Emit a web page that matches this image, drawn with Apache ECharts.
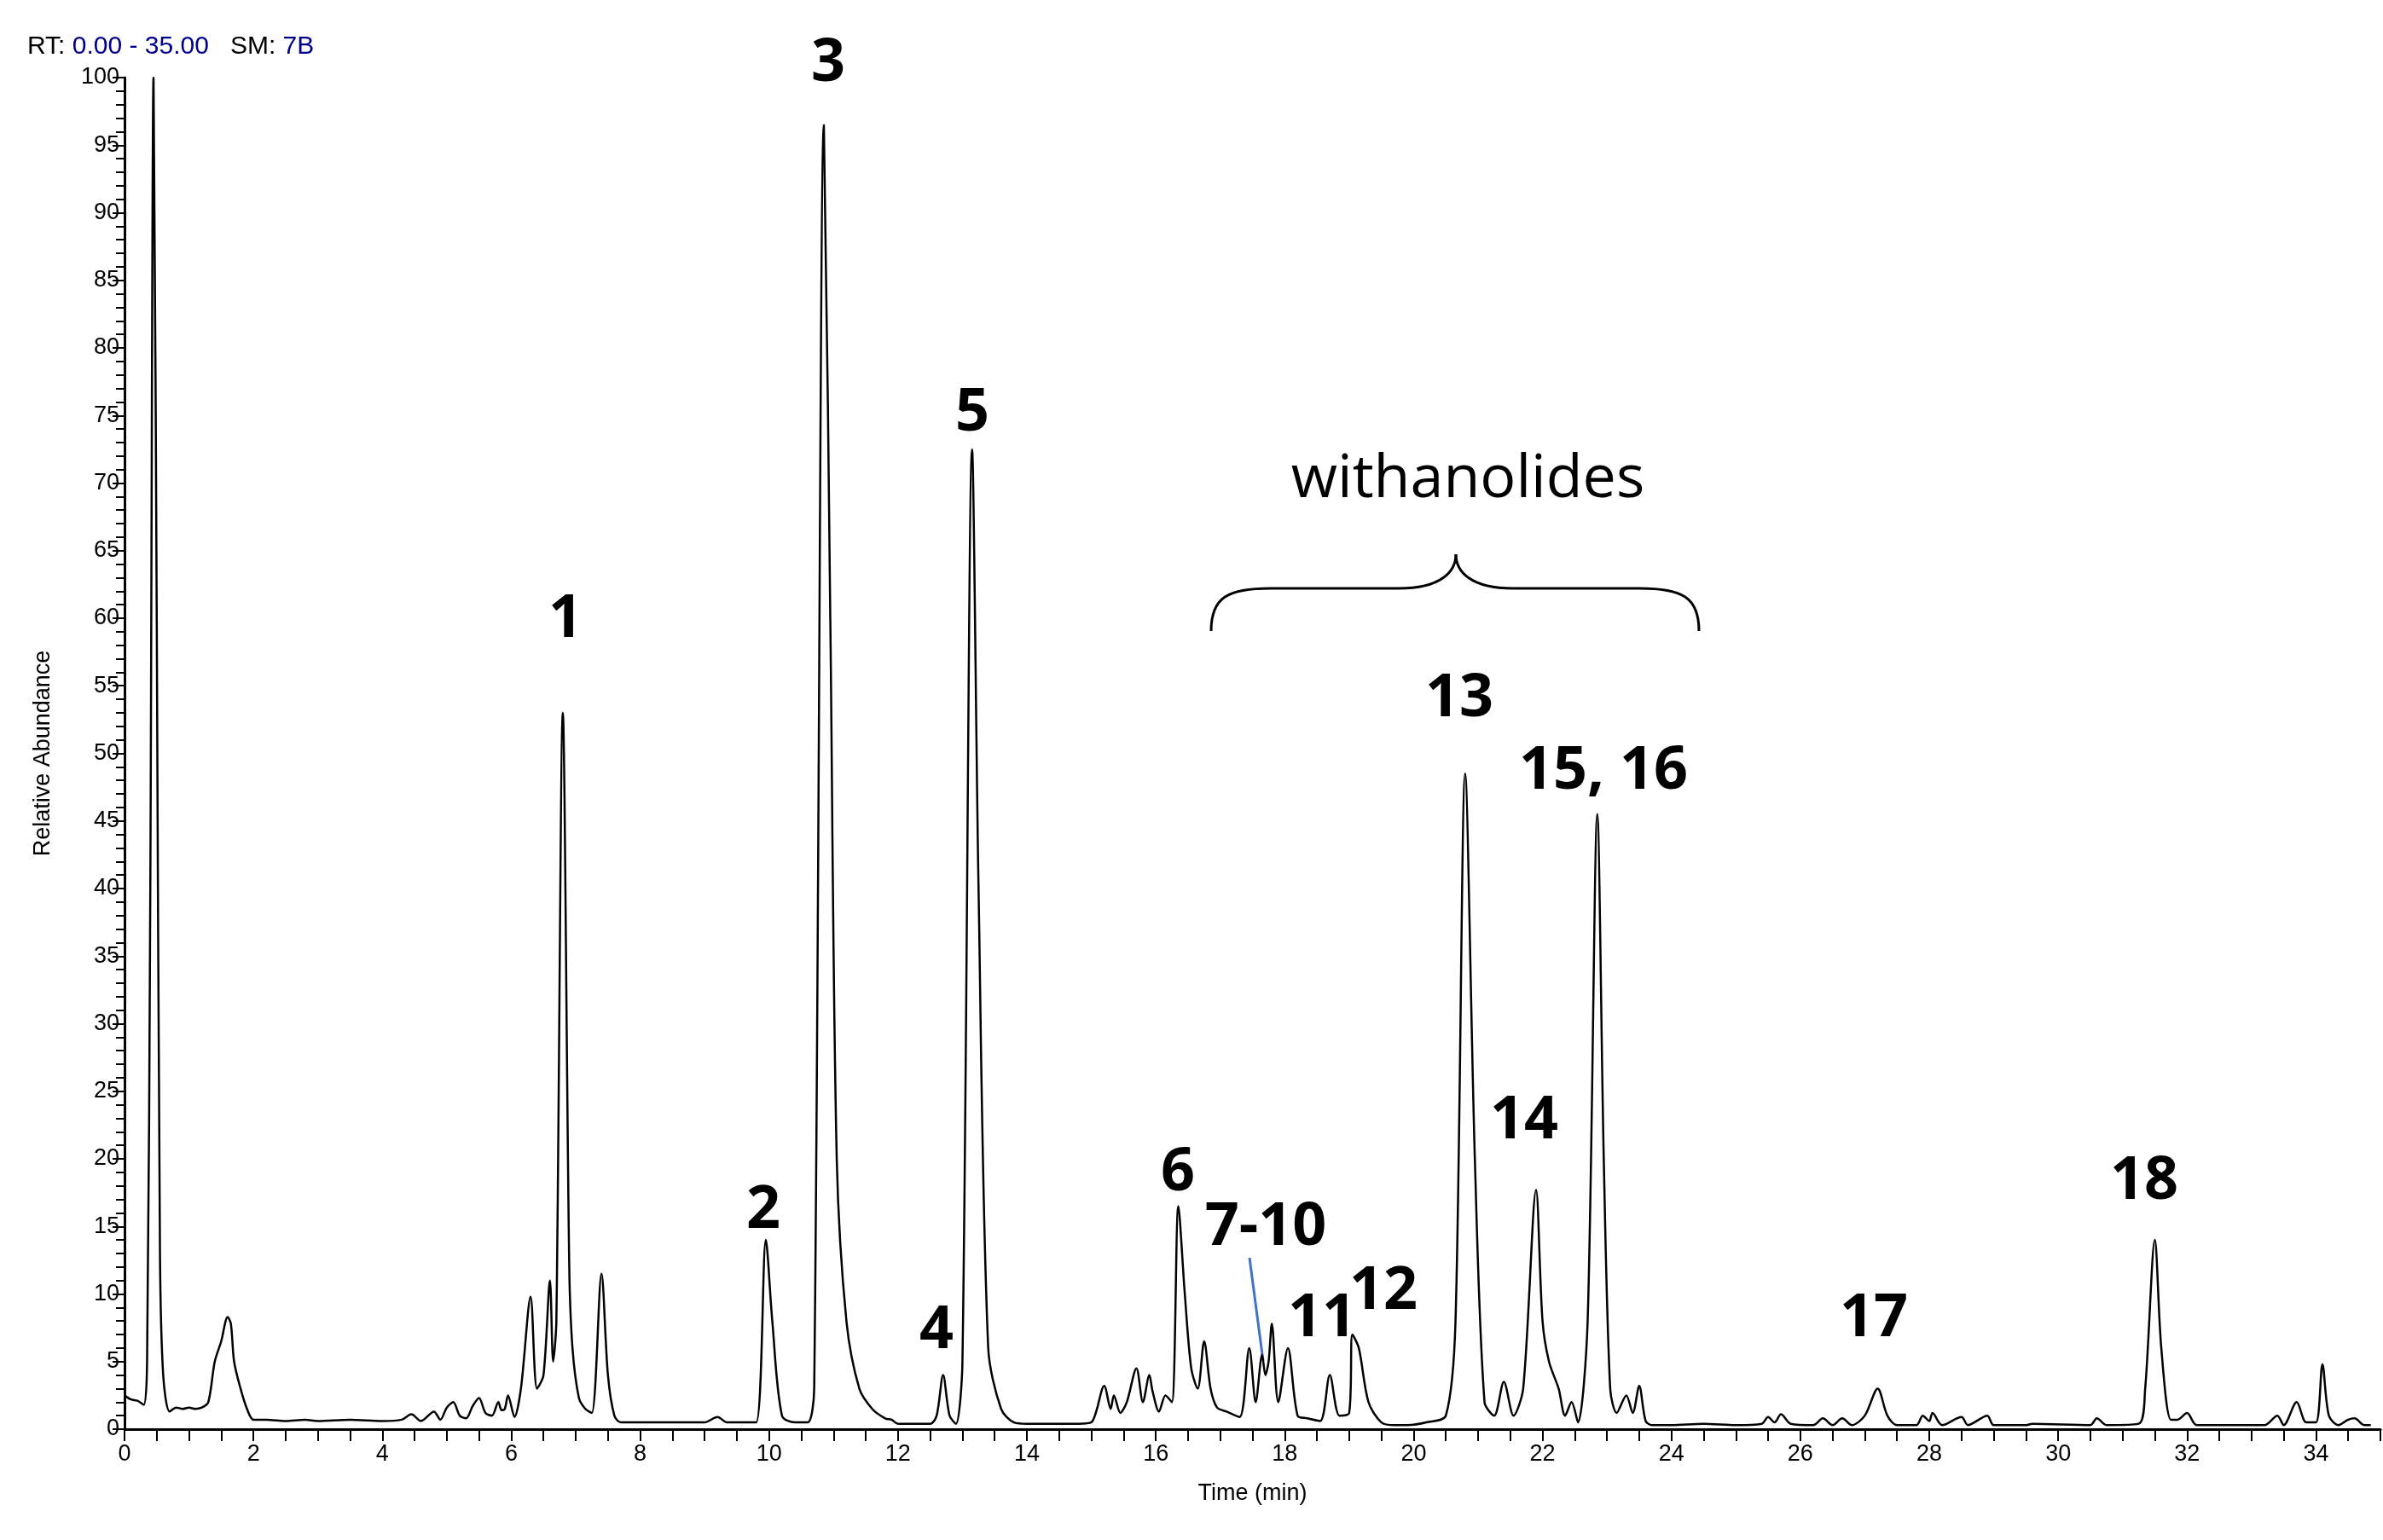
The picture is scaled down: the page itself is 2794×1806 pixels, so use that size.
<!DOCTYPE html>
<html><head><meta charset="utf-8">
<script src="https://cdn.jsdelivr.net/npm/echarts@6/dist/echarts.min.js"></script>
<style>html,body{margin:0;padding:0;background:#fff}#c{width:2794px;height:1806px}</style>
</head><body><div id="c"></div>
<script>
const times = [0,0.1,0.2,0.3,0.35,0.4,0.45,0.5,0.55,0.6,0.7,0.8,0.9,1.0,1.1,1.2,1.3,1.4,1.5,1.6,1.65,1.7,1.8,1.9,2.0,2.2,2.5,2.8,3.0,3.5,4.0,4.3,4.45,4.6,4.8,4.9,5.0,5.1,5.2,5.3,5.4,5.5,5.6,5.7,5.8,5.85,5.9,5.95,6.05,6.15,6.3,6.4,6.5,6.6,6.65,6.7,6.8,6.9,6.95,7.05,7.15,7.25,7.4,7.5,7.6,7.7,8.0,9.0,9.2,9.35,9.6,9.8,9.95,10.05,10.2,10.4,10.6,10.7,10.85,10.95,11.05,11.2,11.4,11.6,11.8,11.9,12.0,12.3,12.5,12.6,12.7,12.8,12.9,13.0,13.15,13.25,13.4,13.6,13.8,14.0,14.5,14.8,15.0,15.2,15.3,15.35,15.45,15.55,15.7,15.8,15.9,15.95,16.05,16.15,16.25,16.35,16.45,16.55,16.65,16.75,16.85,16.95,17.1,17.3,17.45,17.55,17.65,17.7,17.75,17.8,17.9,18.05,18.2,18.35,18.55,18.7,18.85,19.0,19.05,19.15,19.3,19.5,19.7,19.9,20.2,20.5,20.65,20.8,20.95,21.1,21.25,21.4,21.55,21.7,21.9,22.0,22.1,22.25,22.35,22.45,22.55,22.7,22.85,22.95,23.05,23.15,23.3,23.4,23.5,23.6,23.7,
  24.0,24.5,25.0,25.4,25.5,25.6,25.7,25.85,26.2,26.35,26.5,26.65,26.8,27.0,27.2,27.35,27.5,27.8,27.9,28.0,28.05,28.2,28.5,28.6,28.9,29.0,29.5,29.6,30.5,30.6,30.75,31.25,31.35,31.5,31.6,31.75,31.85,32.0,32.15,33.2,33.4,33.5,33.7,33.85,34.0,34.1,34.2,34.35,34.5,34.6,34.75,34.85];
const abundance = [2.5,2.2,2.1,1.8,5,40,100,60,13,4,1.3,1.6,1.5,1.6,1.5,1.6,2,5,6.5,8.3,7.8,5,3,1.5,0.7,0.7,0.6,0.7,0.6,0.7,0.6,0.7,1.1,0.6,1.3,0.7,1.6,2,1,0.8,1.7,2.3,1.2,1.0,2.0,1.4,1.5,2.5,0.9,3,9.8,3,4,11,5,8,53,12,6,2.3,1.5,1.2,11.5,4,1,0.5,0.5,0.5,0.9,0.5,0.5,0.5,14,8,1,0.5,0.5,3,96.5,60,20,8,3,1.5,0.8,0.7,0.4,0.4,0.4,1,4,1,0.4,5,72.5,40,6,1.5,0.5,0.4,0.4,0.4,0.5,3.2,1.5,2.5,1.2,2,4.5,2,4,2.8,1.3,2.5,2.0,16.5,10,4.5,3,6.5,3,1.6,1.3,0.9,6,2,5.5,4,5,7.8,2,6,1,0.8,0.6,4,1,1.2,7,6,2,0.5,0.3,0.3,0.5,1,8,48.5,20,2,1,3.5,1,3,17.7,8,5,3,1,2,0.5,8,45.5,20,3,1.2,2.5,1.2,3.2,0.6,0.3,
  0.3,0.4,0.3,0.4,0.9,0.5,1.1,0.4,0.3,0.8,0.3,0.8,0.3,1,3,1,0.3,0.3,1,0.6,1.2,0.3,0.9,0.3,1,0.3,0.3,0.4,0.3,0.8,0.3,0.4,3,14,6,0.7,0.7,1.2,0.3,0.3,1,0.3,2,0.5,0.5,4.8,1,0.3,0.7,0.8,0.3,0.3];
const yTicks = [0,5,10,15,20,25,30,35,40,45,50,55,60,65,70,75,80,85,90,95,100];
const xTicks = [0,2,4,6,8,10,12,14,16,18,20,22,24,26,28,30,32,34];
const peakLabels = [
  ['1',663,727],['3',971,75],['5',1140,485],['2',895,1420],['4',1098,1561],['6',1381,1376],
  ['7-10',1484,1440],['11',1550,1547],['12',1622,1515],['13',1711,820],['15, 16',1880,905],
  ['14',1787,1315],['17',2197,1547],['18',2514,1386]
];
const data = times.map((t,i)=>[t,abundance[i]]);
const chart = echarts.init(document.getElementById('c'));
const ax = {lineStyle:{color:'#000',width:3}};
const graphics = peakLabels.map(p=>({type:'text',x:p[1],y:p[2],style:{text:p[0],fill:'#000',font:'bold 70px "Open Sans", sans-serif',align:'center',verticalAlign:'middle'}}));
graphics.push({type:'text',x:1721,y:563,style:{text:'withanolides',fill:'#000',font:'70px "Open Sans", sans-serif',align:'center',verticalAlign:'middle'}});
const bs = {stroke:'#000',lineWidth:3,fill:'none'};
graphics.push({type:'bezierCurve',shape:{x1:1420,y1:740,cpx1:1420,cpy1:700,cpx2:1440,cpy2:690,x2:1490,y2:690},style:bs});
graphics.push({type:'line',shape:{x1:1490,y1:690,x2:1640,y2:690},style:bs});
graphics.push({type:'bezierCurve',shape:{x1:1640,y1:690,cpx1:1690,cpy1:690,cpx2:1707,cpy2:670,x2:1707,y2:650},style:bs});
graphics.push({type:'bezierCurve',shape:{x1:1707,y1:650,cpx1:1707,cpy1:670,cpx2:1724,cpy2:690,x2:1774,y2:690},style:bs});
graphics.push({type:'line',shape:{x1:1774,y1:690,x2:1922,y2:690},style:bs});
graphics.push({type:'bezierCurve',shape:{x1:1922,y1:690,cpx1:1972,cpy1:690,cpx2:1992,cpy2:700,x2:1992,y2:740},style:bs});
graphics.push({type:'line',shape:{x1:1465,y1:1475,x2:1481,y2:1596},style:{stroke:'#4472c4',lineWidth:3}});
graphics.push({type:'text',x:32,y:55,style:{rich:{k:{fill:'#000',fontSize:30,fontFamily:'Liberation Sans'},b:{fill:'#00008b',fontSize:30,fontFamily:'Liberation Sans'}},text:'{k|RT: }{b|0.00 - 35.00}{k|   SM: }{b|7B}',verticalAlign:'middle'}});
chart.setOption({
  animation:false,
  grid:{left:146,right:2,top:91,bottom:130},
  xAxis:{type:'value',min:0,max:35,interval:2,name:'Time (min)',nameLocation:'middle',nameGap:62,
    nameTextStyle:{color:'#000',fontSize:27,fontFamily:'Liberation Sans'},
    axisLine:ax,axisTick:{length:14,lineStyle:{color:'#000',width:2}},
    minorTick:{show:true,splitNumber:4,length:14,lineStyle:{color:'#000',width:2}},
    axisLabel:{color:'#000',fontSize:27,fontFamily:'Liberation Sans',margin:16,formatter:v=>xTicks.includes(v)?String(v):''},
    splitLine:{show:false}},
  yAxis:{type:'value',min:0,max:100,interval:5,name:'Relative Abundance',nameLocation:'middle',nameGap:82,
    nameTextStyle:{color:'#000',fontSize:27,fontFamily:'Liberation Sans'},
    axisLine:{show:true,lineStyle:{color:'#000',width:3}},axisTick:{show:true,length:14,lineStyle:{color:'#000',width:2}},
    minorTick:{show:true,splitNumber:5,length:10,lineStyle:{color:'#000',width:2}},
    axisLabel:{color:'#000',fontSize:27,fontFamily:'Liberation Sans',margin:6,formatter:v=>yTicks.includes(v)?String(v):''},
    splitLine:{show:false}},
  series:[{type:'line',data:data,symbol:'none',smooth:0.3,lineStyle:{color:'#000',width:2.5}}],
  graphic:graphics
});
</script></body></html>
